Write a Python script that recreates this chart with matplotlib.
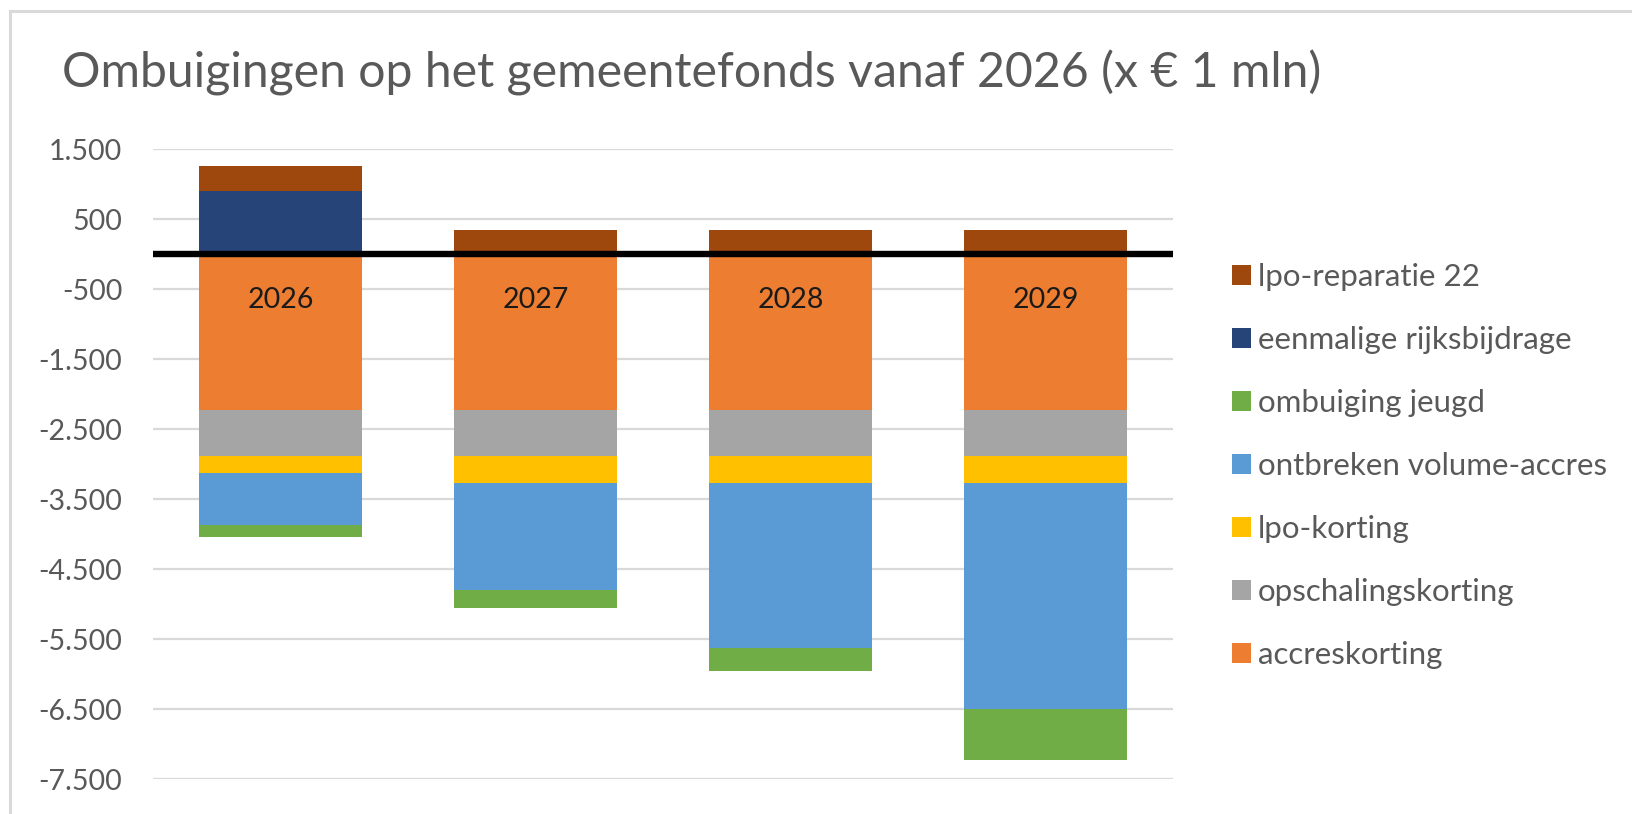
import numpy as np
import matplotlib
matplotlib.use('Agg')
import matplotlib.pyplot as plt
from matplotlib.lines import Line2D
from matplotlib.patches import Patch
from matplotlib.ticker import FuncFormatter

# data (x EUR 1 mln):
years = ['2026', '2027', '2028', '2029']
accreskorting = [-2230, -2230, -2230, -2230]
opschalingskorting = [-660, -660, -660, -660]
lpo_korting = [-230, -385, -385, -385]
volume_accres = [-750, -1515, -2355, -3215]
ombuiging_jeugd = [-170, -260, -330, -730]
rijksbijdrage = [905, 0, 0, 0]
lpo_reparatie = [360, 345, 345, 345]

labels = ['accreskorting', 'opschalingskorting', 'lpo-korting',
          'ontbreken volume-accres', 'ombuiging jeugd',
          'eenmalige rijksbijdrage', 'lpo-reparatie 22']
colors = ['#ED7D31', '#A5A5A5', '#FFC000', '#5B9BD5', '#70AD47',
          '#264478', '#9E480E']
values = [accreskorting, opschalingskorting, lpo_korting, volume_accres,
          ombuiging_jeugd, rijksbijdrage, lpo_reparatie]

plt.rcParams['font.family'] = ['Lato', 'DejaVu Sans']
W, H = 1632, 814
fig = plt.figure(figsize=(W / 100, H / 100), dpi=100)
ax = fig.add_axes([153 / W, 1 - 779.3 / H, 1020 / W, 630.2 / H])

# stacked bars, positives up and negatives down from zero:
x = np.arange(len(years))
pos = np.zeros(len(years))
neg = np.zeros(len(years))
handles = []
for lab, vals, col in zip(labels, values, colors):
    v = np.asarray(vals, dtype=float)
    bottom = np.where(v >= 0, pos, neg)
    ax.bar(x, v, 0.643, bottom=bottom, color=col, edgecolor='none', zorder=2)
    pos += np.where(v >= 0, v, 0)
    neg += np.where(v < 0, v, 0)
    handles.append(Patch(facecolor=col, edgecolor='none', label=lab))

ax.axhline(0, color='black', lw=4.6, zorder=3)

# year labels just below the zero line:
for i, yr in enumerate(years):
    ax.annotate(yr, (i, 0), xytext=(0, -33), textcoords='offset points',
                ha='center', va='center', fontsize=20.5, color='#1a1a1a', zorder=4)

# axes:
ax.set_xlim(-0.5, len(years) - 0.5)
ax.set_ylim(-7500, 1500)
ax.set_yticks(np.arange(1500, -7501, -1000))
ax.yaxis.set_major_formatter(FuncFormatter(lambda v, p: f'{v:,.0f}'.replace(',', '.')))
ax.tick_params(axis='y', length=0, pad=22, labelsize=20.5, labelcolor='#595959')
ax.set_xticks([])
ax.yaxis.grid(True, color='#d9d9d9', lw=1.6)
ax.set_axisbelow(True)
for s in ax.spines.values():
    s.set_visible(False)

# title:
fig.text(62 / W, 1 - 73 / H, 'Ombuigingen op het gemeentefonds vanaf 2026 (x € 1 mln)',
         ha='left', va='center', fontsize=34.7, color='#595959')

# legend:
fig.legend(handles=handles[::-1], loc='upper left',
           bbox_to_anchor=(1232 / W, 1 - 263 / H), frameon=False,
           fontsize=22.5, labelcolor='#595959', borderpad=0, borderaxespad=0,
           handlelength=0.61, handleheight=0.61, handletextpad=0.22,
           labelspacing=1.12)

# chart border:
fig.add_artist(Line2D([10 / W, 1.0], [1 - 11 / H, 1 - 11 / H], color='#d9d9d9', lw=2.2))
fig.add_artist(Line2D([10 / W, 10 / W], [0.0, 1 - 11 / H], color='#d9d9d9', lw=2.2))

fig.savefig('out.png', dpi=100)
